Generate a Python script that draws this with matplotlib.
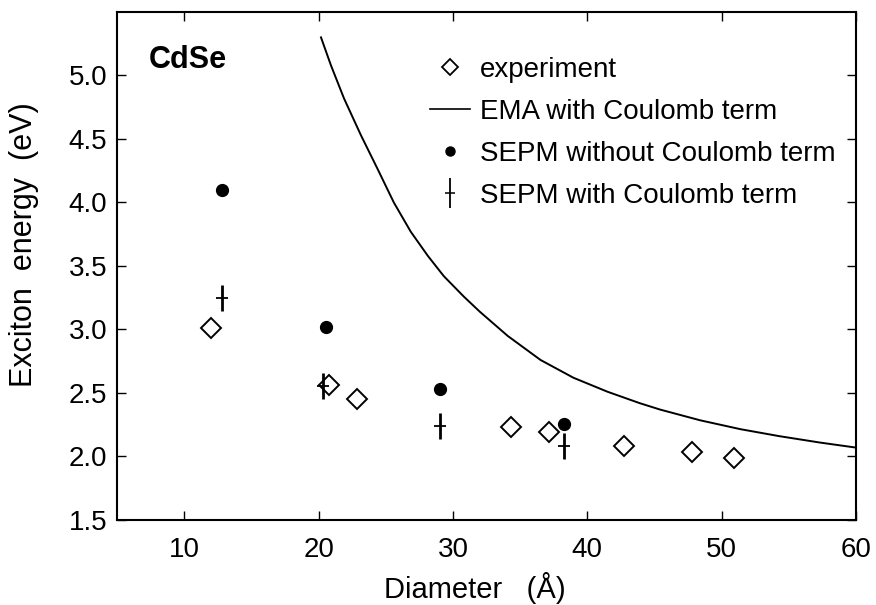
import matplotlib
matplotlib.use("Agg")
import matplotlib.pyplot as plt
from matplotlib.lines import Line2D
from matplotlib.legend_handler import HandlerTuple

plt.rcParams['font.family'] = ['Liberation Sans', 'DejaVu Sans']

# experiment (open diamonds)
exp_d = [12.0, 20.8, 22.85, 34.3, 37.15, 42.7, 47.8, 50.9]
exp_e = [3.01, 2.56, 2.45, 2.23, 2.19, 2.08, 2.035, 1.99]

# EMA with Coulomb term (solid curve)
ema_d = [20.18, 20.92, 21.89, 23.15, 24.41, 25.60, 26.86, 28.13, 29.32, 30.80,
         32.0, 34.07, 36.52, 38.97, 41.5, 43.9, 45.4, 48.4, 51.4, 54.3, 57.3, 60.0]
ema_e = [5.30, 5.08, 4.82, 4.53, 4.26, 4.00, 3.77, 3.58, 3.42, 3.26,
         3.14, 2.95, 2.76, 2.62, 2.51, 2.42, 2.37, 2.285, 2.215, 2.16, 2.11, 2.07]

# SEPM without Coulomb term (filled circles)
sepm0_d = [12.8, 20.55, 29.07, 38.26]
sepm0_e = [4.10, 3.02, 2.53, 2.255]

# SEPM with Coulomb term (crosses)
sepm1_d = [12.8, 20.3, 29.07, 38.26]
sepm1_e = [3.25, 2.555, 2.24, 2.08]

fig = plt.figure(figsize=(8.76, 6.05), dpi=100)
ax = fig.add_axes([0.1336, 0.1405, 0.8436, 0.8397])

ax.plot(exp_d, exp_e, ls='none', marker='D', ms=10, mfc='white', mec='black', mew=1.4)
ax.plot(ema_d, ema_e, color='black', lw=1.4)
ax.plot(sepm0_d, sepm0_e, ls='none', marker='o', ms=8.5, color='black')
ax.plot(sepm1_d, sepm1_e, ls='none', marker='|', ms=19, mew=2.0, color='black')
ax.plot(sepm1_d, sepm1_e, ls='none', marker='_', ms=9, mew=1.3, color='black')

ax.set_xlim(5, 60)
ax.set_ylim(1.5, 5.5)
ax.set_xticks([10, 20, 30, 40, 50, 60])
ax.set_yticks([1.5, 2.0, 2.5, 3.0, 3.5, 4.0, 4.5, 5.0])
ax.set_yticklabels([f'{v:.1f}' for v in ax.get_yticks()], fontsize=20)
ax.set_xticklabels([str(v) for v in [10, 20, 30, 40, 50, 60]], fontsize=20)
ax.tick_params(axis='both', direction='in', length=6.5, width=1.0, top=True, right=True)
ax.tick_params(axis='y', pad=7)
ax.tick_params(axis='x', pad=12)
for sp in ax.spines.values():
    sp.set_linewidth(1.5)

ax.set_ylabel('Exciton  energy  (eV)', fontsize=22)
ax.yaxis.set_label_coords(-0.106, 0.543)
ax.set_xlabel('Diameter   (Å)', fontsize=21, va='baseline')
ax.xaxis.set_label_coords(0.484, -0.153)

ax.text(0.0433, 0.890, 'CdSe', transform=ax.transAxes, fontsize=22,
        fontweight='bold', va='baseline', ha='left')

h_exp = Line2D([], [], ls='none', marker='D', ms=8, mfc='white', mec='black', mew=1.3)
h_ema = Line2D([], [], color='black', lw=1.2)
h_s0 = Line2D([], [], ls='none', marker='o', ms=6.5, color='black')
h_s1 = (Line2D([], [], ls='none', marker='|', ms=22, mew=1.3, color='black'),
        Line2D([], [], ls='none', marker='_', ms=7, mew=1.1, color='black'))
ax.legend([h_exp, h_ema, h_s0, h_s1],
          ['experiment', 'EMA with Coulomb term', 'SEPM without Coulomb term',
           'SEPM with Coulomb term'],
          handler_map={tuple: HandlerTuple(ndivide=1)},
          loc='upper left', bbox_to_anchor=(0.423, 0.912), frameon=False,
          fontsize=20, handlelength=1.45, handletextpad=0.35, labelspacing=0.58,
          borderpad=0, borderaxespad=0)

fig.savefig('out.png', dpi=100)
